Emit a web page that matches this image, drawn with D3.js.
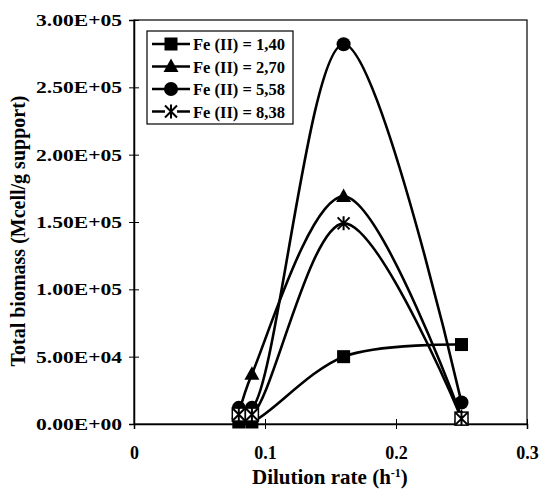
<!DOCTYPE html>
<html>
<head>
<meta charset="utf-8">
<script src="https://cdn.jsdelivr.net/npm/d3@7"></script>
<style>
  body { margin: 0; background: #fff; }
  text { font-family: "Liberation Serif", "Times New Roman", serif; font-weight: bold; }
</style>
</head>
<body>
<div id="graph"></div>
<script>
// dilution rate (h-1) and total biomass (Mcell/g support)
var dilution = [0.08, 0.09, 0.16, 0.25]
var fe140 = [1500, 1500, 50000, 59000]
var fe270 = [8000, 37000, 169000, 5000]
var fe558 = [12000, 12000, 282000, 16000]
var fe838 = [7000, 7000, 149000, 4000]

var seriesNames = ['Fe (II) = 1,40', 'Fe (II) = 2,70', 'Fe (II) = 5,58', 'Fe (II) = 8,38']
var markers = ['square', 'triangle', 'circle', 'star']
var yTicks = [0, 50000, 100000, 150000, 200000, 250000, 300000]
var xTicks = [0, 0.1, 0.2, 0.3]

var series = [fe140, fe270, fe558, fe838].map((vals, i) => ({
  name: seriesNames[i],
  marker: markers[i],
  points: vals.map((v, j) => ({x: dilution[j], y: v}))
}))

var width = 539, height = 489
var margin = {left: 134, right: 12, top: 20, bottom: 65}

var svg = d3.select('#graph').append('svg')
  .attr('width', width).attr('height', height)

var x = d3.scaleLinear().domain([0, 0.3]).range([margin.left, width - margin.right])
var y = d3.scaleLinear().domain([0, 300000]).range([height - margin.bottom, margin.top])

// frame
svg.append('rect')
  .attr('x', x(0)).attr('y', y(300000))
  .attr('width', x(0.3) - x(0)).attr('height', y(0) - y(300000))
  .attr('fill', 'none').attr('stroke', '#000').attr('stroke-width', 1.2)

// y axis
var yAxis = d3.axisLeft(y).tickValues(yTicks).tickSize(5)
  .tickFormat(d => d == 0 ? '0.00E+00' : d3.format('.2e')(d).replace('e+', 'E+0').toUpperCase())
var gy = svg.append('g').attr('transform', `translate(${x(0)},0)`).call(yAxis)
gy.select('.domain').attr('stroke-width', 1.5)
gy.selectAll('.tick line').attr('x2', 5).attr('x1', -5).attr('stroke-width', 1)
gy.selectAll('.tick text').attr('x', -12).attr('font-size', 17).attr('fill', '#000')
  .attr('font-family', '"Liberation Serif", serif')
  .attr('textLength', 86).attr('lengthAdjust', 'spacingAndGlyphs')

// x axis
var xAxis = d3.axisBottom(x).tickValues(xTicks).tickSize(5)
  .tickFormat(d => d == 0 ? '0' : d3.format('.1f')(d))
var gx = svg.append('g').attr('transform', `translate(0,${y(0)})`).call(xAxis)
gx.select('.domain').attr('stroke-width', 1.5)
gx.selectAll('.tick line').attr('y1', -5).attr('y2', 5).attr('stroke-width', 1)
gx.selectAll('.tick text').attr('y', 22).attr('font-size', 18).attr('fill', '#000')
  .attr('font-family', '"Liberation Serif", serif')

// axis titles
svg.append('text')
  .attr('transform', 'translate(25,231) rotate(-90)')
  .attr('text-anchor', 'middle').attr('font-size', 20)
  .text('Total biomass (Mcell/g support)')

var xt = svg.append('text')
  .attr('x', 252).attr('y', 484)
  .attr('font-size', 21)
xt.append('tspan').text('Dilution rate (h')
xt.append('tspan').attr('dy', -7).attr('font-size', 12).text('-1')
xt.append('tspan').attr('dy', 7).text(')')

// lines
var line = d3.line()
  .x(d => x(d.x)).y(d => y(d.y))
  .curve(d3.curveCatmullRom.alpha(0.5))

svg.append('g').selectAll('path').data(series).join('path')
  .attr('d', d => line(d.points))
  .attr('fill', 'none').attr('stroke', '#000').attr('stroke-width', 2.6)

function drawMarker(sel, type) {
  if (type == 'square') {
    sel.append('rect').attr('x', -6.5).attr('y', -6.5).attr('width', 13).attr('height', 13).attr('fill', '#000')
  } else if (type == 'triangle') {
    sel.append('path').attr('d', 'M0,-8L7.5,5.5L-7.5,5.5Z').attr('fill', '#000')
  } else if (type == 'circle') {
    sel.append('circle').attr('r', 7).attr('fill', '#000')
  } else {
    sel.append('path').attr('d', 'M-6,-6L6,6M-6,6L6,-6M0,-7L0,7')
      .attr('stroke', '#000').attr('stroke-width', 2).attr('fill', 'none')
  }
}

// markers (white box behind the low star points, as in the original)
series.forEach(s => {
  var g = svg.append('g')
  g.selectAll('g').data(s.points).join('g')
    .attr('transform', d => `translate(${x(d.x)},${y(d.y)})`)
    .each(function() {
      if (s.marker == 'star') {
        d3.select(this).append('rect').attr('x', -6.5).attr('y', -6.5)
          .attr('width', 13).attr('height', 13).attr('fill', '#fff').attr('stroke', '#000').attr('stroke-width', 1.5)
          .attr('opacity', (d) => d.y < 10000 ? 1 : 0)
      }
      drawMarker(d3.select(this), s.marker)
    })
})

// legend
var lg = svg.append('g').attr('transform', 'translate(147,31)')
lg.append('rect').attr('width', 146).attr('height', 93)
  .attr('fill', '#fff').attr('stroke', '#000').attr('stroke-width', 1.2)
var row = lg.selectAll('g.row').data(series).join('g')
  .attr('class', 'row')
  .attr('transform', (d, i) => `translate(0,${13 + i * 22.5})`)
row.append('line').attr('x1', 5).attr('x2', 43)
  .attr('stroke', '#000').attr('stroke-width', 2.6)
row.append('g').attr('transform', 'translate(24,0)')
  .each(function(d) {
    var m = d3.select(this)
    if (d.marker == 'star') {
      m.append('rect').attr('x', -6).attr('y', -6).attr('width', 12).attr('height', 12).attr('fill', '#fff')
    }
    drawMarker(m, d.marker)
  })
row.append('text').attr('x', 46).attr('y', 6).attr('font-size', 16.5)
  .text(d => d.name)
</script>
</body>
</html>
